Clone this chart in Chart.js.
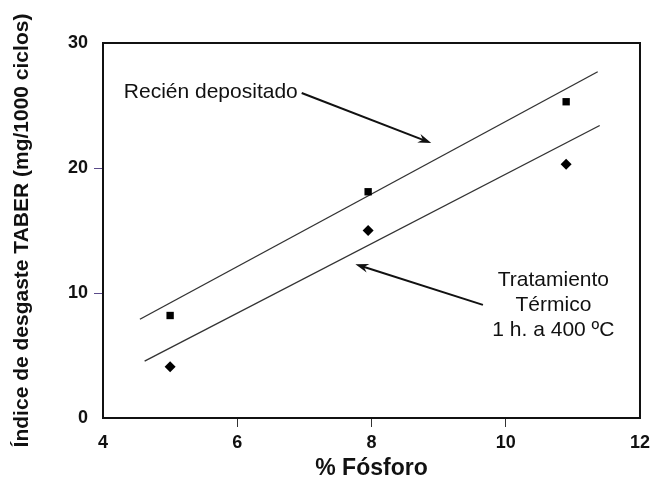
<!DOCTYPE html>
<html>
<head>
<meta charset="utf-8">
<script src="https://cdn.jsdelivr.net/npm/chart.js@4"></script>
<style>
  html, body { margin: 0; padding: 0; background: #fff; }
  #wrap { width: 655px; height: 484px; }
</style>
</head>
<body>
<div id="wrap"><canvas id="chart" width="655" height="484"></canvas></div>
<script>
// % fósforo de las muestras
var fosforo = [5, 7.95, 10.9];
// desgaste TABER
var recienDepositado = [8.2, 18.1, 25.3];
var tratamientoTermico = [4.1, 15.0, 20.3];
// rectas de ajuste (extremos)
var rectaSupX = [4.55, 11.37];
var rectaSupY = [7.9, 27.7];
var rectaInfX = [4.62, 11.4];
var rectaInfY = [4.55, 23.4];
// flechas: [x0, y0, x1, y1] en unidades del grafico
var flechaSup = [6.96, 26.0, 8.89, 22.0];
var flechaInf = [9.66, 9.05, 7.76, 12.3];
var etiquetaSup = ["Recién depositado"];
var etiquetaInf = ["Tratamiento", "Térmico", "1 h. a 400 ºC"];
var xTicks = [4, 6, 8, 10, 12];
var yTicks = [0, 10, 20, 30];

var FONT = '"Liberation Sans", Arial, sans-serif';

function pares(xs, ys) {
  return xs.map(function (x, i) { return { x: x, y: ys[i] }; });
}

// no marcar los ticks que caen en las esquinas
function colorTick(col, n) {
  return function (c) {
    return (c.index === 0 || c.index === n - 1) ? 'rgba(0,0,0,0)' : col;
  };
}

function flecha(ctx, x0, y0, x1, y1) {
  var ang = Math.atan2(y1 - y0, x1 - x0);
  ctx.beginPath();
  ctx.moveTo(x0, y0);
  ctx.lineTo(x1 - 6 * Math.cos(ang), y1 - 6 * Math.sin(ang));
  ctx.stroke();
  ctx.beginPath();
  ctx.moveTo(x1, y1);
  ctx.lineTo(x1 - 14 * Math.cos(ang - 0.33), y1 - 14 * Math.sin(ang - 0.33));
  ctx.lineTo(x1 - 9 * Math.cos(ang), y1 - 9 * Math.sin(ang));
  ctx.lineTo(x1 - 14 * Math.cos(ang + 0.33), y1 - 14 * Math.sin(ang + 0.33));
  ctx.closePath();
  ctx.fill();
}

var anotaciones = {
  id: 'anotaciones',
  afterDatasetsDraw: function (chart) {
    var ctx = chart.ctx, xs = chart.scales.x, ys = chart.scales.y;
    var a = chart.chartArea;
    ctx.save();
    // marco
    ctx.strokeStyle = '#111';
    ctx.lineWidth = 2;
    ctx.strokeRect(a.left, a.top, a.right - a.left, a.bottom - a.top);
    // flechas
    ctx.strokeStyle = '#111';
    ctx.fillStyle = '#111';
    ctx.lineWidth = 2;
    [flechaSup, flechaInf].forEach(function (f) {
      flecha(ctx, xs.getPixelForValue(f[0]), ys.getPixelForValue(f[1]),
        xs.getPixelForValue(f[2]), ys.getPixelForValue(f[3]));
    });
    // textos
    ctx.fillStyle = '#111';
    ctx.font = '21px ' + FONT;
    ctx.textBaseline = 'middle';
    ctx.textAlign = 'left';
    ctx.fillText(etiquetaSup[0], xs.getPixelForValue(4.31), ys.getPixelForValue(26.1));
    ctx.textAlign = 'center';
    var cx = xs.getPixelForValue(10.71), cy = ys.getPixelForValue(11.04);
    etiquetaInf.forEach(function (t, i) {
      ctx.fillText(t, cx, cy + i * 25);
    });
    ctx.restore();
  }
};

new Chart(document.getElementById('chart'), {
  type: 'scatter',
  data: {
    datasets: [
      {
        label: 'Recién depositado',
        data: pares(fosforo, recienDepositado),
        pointStyle: 'rect',
        pointRadius: 5.2,
        backgroundColor: '#000',
        borderColor: '#000',
        borderWidth: 0
      },
      {
        label: 'Tratamiento térmico',
        data: pares(fosforo, tratamientoTermico),
        pointStyle: 'rectRot',
        pointRadius: 5.5,
        backgroundColor: '#000',
        borderColor: '#000',
        borderWidth: 0
      },
      {
        label: 'ajuste sup',
        data: pares(rectaSupX, rectaSupY),
        showLine: true,
        pointRadius: 0,
        borderColor: '#333',
        borderWidth: 1.4
      },
      {
        label: 'ajuste inf',
        data: pares(rectaInfX, rectaInfY),
        showLine: true,
        pointRadius: 0,
        borderColor: '#333',
        borderWidth: 1.4
      }
    ]
  },
  options: {
    responsive: false,
    animation: false,
    layout: { padding: { top: 43, right: 12, bottom: 0, left: 0 } },
    plugins: {
      legend: { display: false },
      tooltip: { enabled: false }
    },
    scales: {
      x: {
        type: 'linear',
        min: 4, max: 12,
        afterBuildTicks: function (s) { s.ticks = xTicks.map(function (v) { return { value: v }; }); },
        afterFit: function (s) { s.height = 66; },
        grid: { drawOnChartArea: false, tickLength: 9, color: colorTick('#333', xTicks.length), lineWidth: 1 },
        border: { display: false },
        ticks: { color: '#111', padding: 5, font: { family: FONT, size: 18, weight: 'bold' } },
        title: {
          display: true, text: '% Fósforo', color: '#111',
          font: { family: FONT, size: 23, weight: 'bold' },
          padding: { top: 0, bottom: 2 }
        }
      },
      y: {
        type: 'linear',
        min: 0, max: 30,
        afterBuildTicks: function (s) { s.ticks = yTicks.map(function (v) { return { value: v }; }); },
        afterFit: function (s) { s.width = 103; },
        grid: { drawOnChartArea: false, tickLength: 9, color: colorTick('#5a4a8a', yTicks.length), lineWidth: 1 },
        border: { display: false },
        ticks: { color: '#111', padding: 6, font: { family: FONT, size: 18, weight: 'bold' } },
        title: {
          display: true, text: 'Índice de desgaste TABER (mg/1000 ciclos)', color: '#111',
          font: { family: FONT, size: 21, weight: 'bold' },
          padding: { top: 10, bottom: 0 }
        }
      }
    }
  },
  plugins: [anotaciones]
});
</script>
</body>
</html>
